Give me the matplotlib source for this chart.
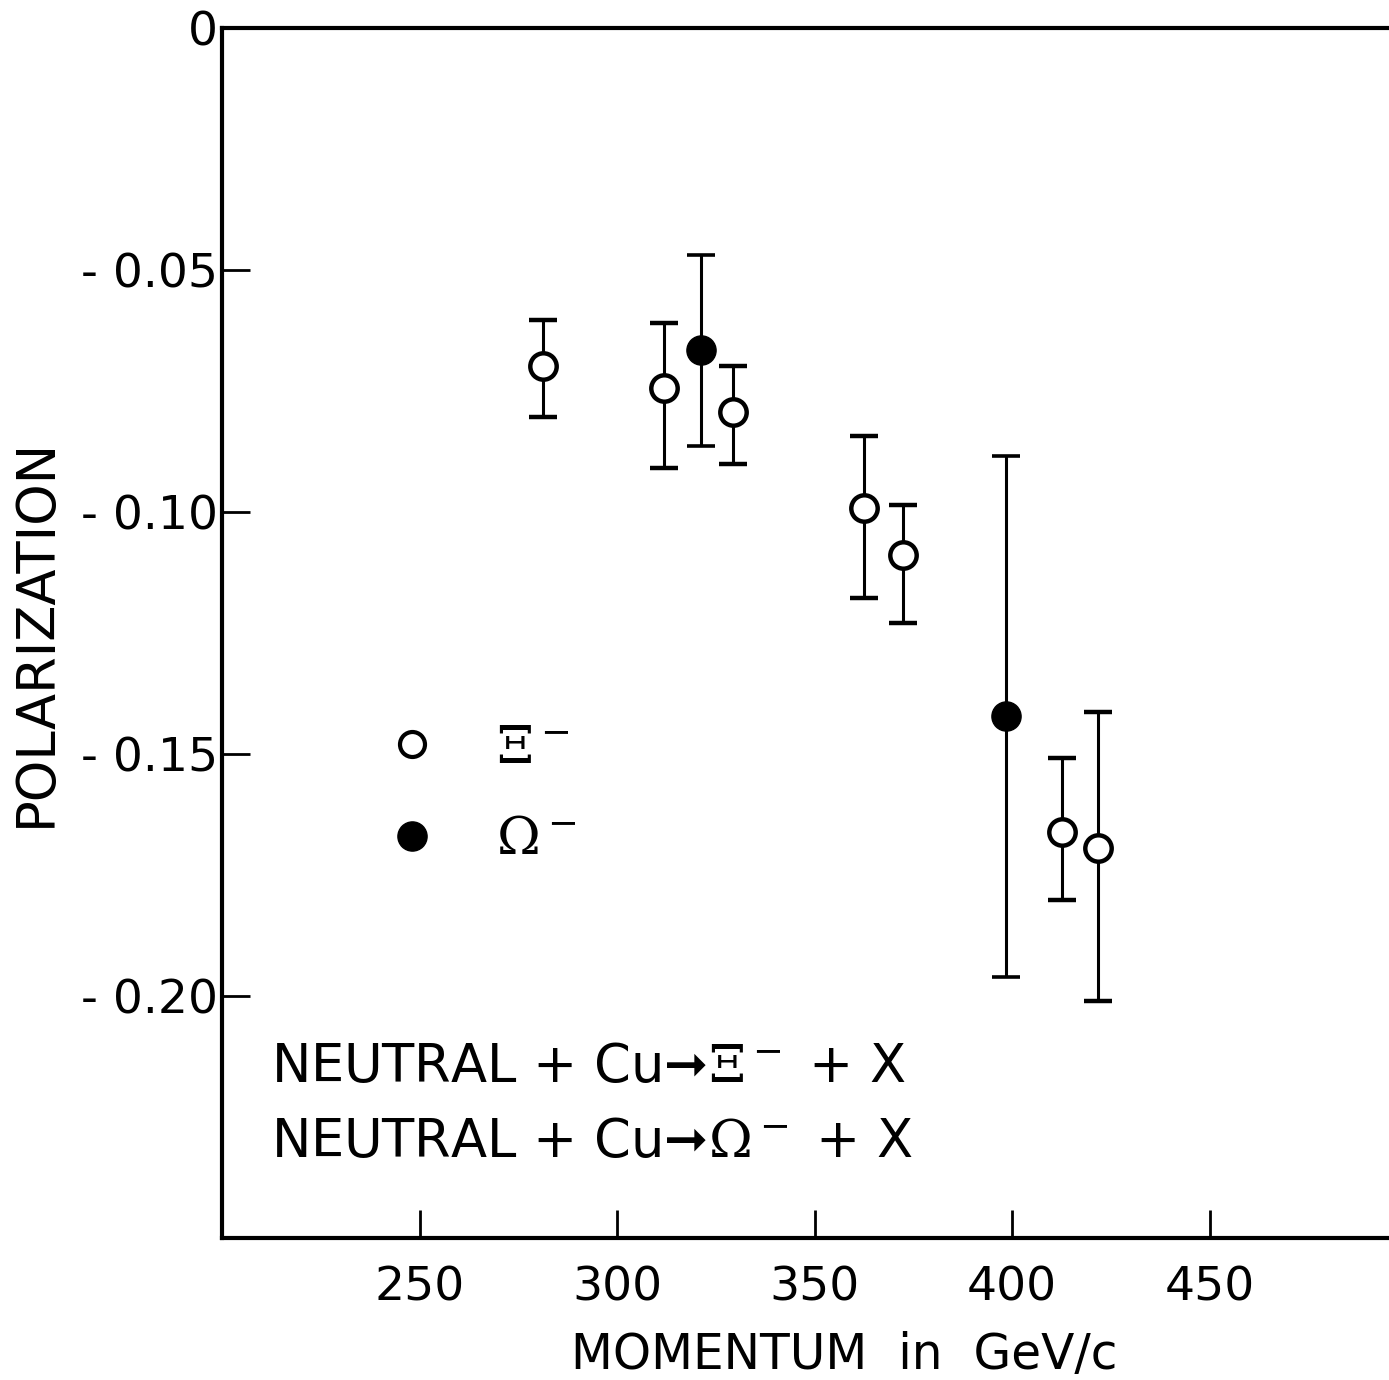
import numpy as np
import matplotlib
matplotlib.use('Agg')
import matplotlib.pyplot as plt
from matplotlib.lines import Line2D

plt.rcParams['font.family'] = ['DejaVu Sans']
plt.rcParams['mathtext.fontset'] = 'dejavuserif'

# Xi- points (open circles)
xi_p = [281.3, 311.9, 329.4, 362.5, 372.4, 412.7, 421.8]
xi_pol = [-0.0700, -0.0744, -0.0795, -0.0992, -0.1089, -0.1661, -0.1694]
xi_top = [-0.0603, -0.0610, -0.0698, -0.0843, -0.0986, -0.1508, -0.1413]
xi_bot = [-0.0804, -0.0909, -0.0901, -0.1178, -0.1229, -0.1802, -0.2010]

# Omega- points (filled circles)
om_p = [321.3, 398.5]
om_pol = [-0.0667, -0.1421]
om_top = [-0.0469, -0.0884]
om_bot = [-0.0864, -0.1961]

yticks = [0, -0.05, -0.10, -0.15, -0.20]
ytick_labels = ['0', '- 0.05', '- 0.10', '- 0.15', '- 0.20']
xticks = [250, 300, 350, 400, 450]

fig = plt.figure(figsize=(13.89, 13.80), dpi=100)
ax = fig.add_axes([0.160, 0.103, 0.853, 0.877])

def errs(v, top, bot):
    v = np.array(v)
    return [v - np.array(bot), np.array(top) - v]

ax.errorbar(xi_p, xi_pol, yerr=errs(xi_pol, xi_top, xi_bot), fmt='o',
            ms=19, mfc='white', mec='black', mew=3.2, ecolor='black',
            elinewidth=2.2, capsize=10, capthick=2.6, zorder=3)
ax.errorbar(om_p, om_pol, yerr=errs(om_pol, om_top, om_bot), fmt='o',
            ms=21, mfc='black', mec='black', ecolor='black',
            elinewidth=2.2, capsize=10, capthick=2.6, zorder=3)

ax.set_xlim(200, 500)
ax.set_ylim(-0.25, 0)
ax.set_xticks(xticks)
ax.set_yticks(yticks)
ax.set_yticklabels(ytick_labels)
ax.tick_params(direction='in', length=20, width=2, labelsize=34, pad=3)
ax.tick_params(axis='x', pad=20)
for s in ['left', 'top', 'bottom']:
    ax.spines[s].set_linewidth(3)
ax.spines['right'].set_visible(False)

ax.set_xlabel('MOMENTUM  in  GeV/c', fontsize=35)
ax.xaxis.set_label_coords(0.525, -0.077)
ax.set_ylabel('POLARIZATION', fontsize=38, labelpad=14)

handles = [
    Line2D([], [], ls='none', marker='o', ms=18, mfc='white', mec='black', mew=3),
    Line2D([], [], ls='none', marker='o', ms=21, mfc='black', mec='black'),
]
ax.legend(handles, [r'$\Xi^-$', r'$\Omega^-$'], loc='center left',
          bbox_to_anchor=(0.093, 0.367), frameon=False, fontsize=38,
          handletextpad=1.0, labelspacing=0.75, handlelength=1.2)

ax.text(0.041, 0.141, 'NEUTRAL + Cu\u279e' + r'$\Xi^-$' + ' + X', transform=ax.transAxes,
        fontsize=38, va='center', ha='left')
ax.text(0.041, 0.079, 'NEUTRAL + Cu\u279e' + r'$\Omega^-$' + ' + X', transform=ax.transAxes,
        fontsize=38, va='center', ha='left')

fig.savefig('out.png', dpi=100)
